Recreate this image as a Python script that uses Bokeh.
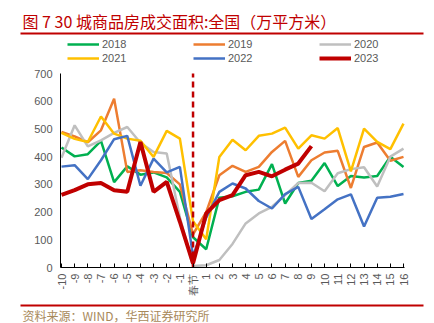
import numpy as np
from bokeh.plotting import figure
from bokeh.models import (Range1d, FixedTicker, Label, Arrow, Legend,
                          LegendItem, ColumnDataSource)
from bokeh.embed import file_html
from bokeh.resources import INLINE

categories = ["-10", "-9", "-8", "-7", "-6", "-5", "-4", "-3", "-2", "-1", "春节",
              "1", "2", "3", "4", "5", "6", "7", "8", "9", "10", "11", "12", "13",
              "14", "15", "16"]
y_ticks = [0, 100, 200, 300, 400, 500, 600, 700]

y2018 = [433, 401, 409, 457, 308, 365, 335, 343, 325, 273, 109, 66, 252, 257, 273,
         281, 373, 231, 305, 313, 377, 294, 330, 325, 330, 400, 363]
y2019 = [489, 473, 452, 495, 609, 345, 351, 345, 341, 300, 120, 200, 333, 367, 345,
         363, 417, 457, 327, 387, 415, 421, 287, 435, 451, 385, 399]
y2020 = [396, 513, 437, 459, 486, 507, 450, 417, 411, 180, 5, 8, 27, 85, 159,
         195, 219, 261, 305, 306, 275, 340, 355, 362, 292, 400, 429]
y2021 = [486, 464, 453, 545, 483, 465, 457, 399, 493, 465, 167, 102, 399, 461, 423,
         475, 483, 505, 429, 477, 465, 503, 347, 501, 453, 427, 519]
y2022 = [364, 369, 319, 387, 463, 475, 295, 393, 343, 363, 40, 180, 273, 303, 285,
         240, 213, 265, 291, 175, 210, 246, 264, 148, 252, 255, 265]
y2023 = [262, 279, 300, 305, 279, 273, 453, 273, 309, 165, 15, 195, 243, 261, 333,
         345, 329, 353, 375, 438]

series_names = ["2018", "2019", "2020", "2021", "2022", "2023"]
series_values = [y2018, y2019, y2020, y2021, y2022, y2023]
series_colors = ["#00B050", "#ED7D31", "#BFBFBF", "#FFC000", "#4472C4", "#C00000"]
series_widths = [2.5, 2.5, 2.5, 2.5, 2.5, 4]

title_text = "图 7 30 城商品房成交面积:全国（万平方米）"
source_text = "资料来源：WIND，华西证券研究所"

W, H = 434, 323
# pixel placement of the data area inside the canvas
PX_FIRST, PX_LAST, PY_ZERO, PY_TOP = 61.0, 403.0, 267.0, 73.0
n = len(categories)
sx = (PX_LAST - PX_FIRST) / (n - 1)          # px per category step
sy = (PY_ZERO - PY_TOP) / y_ticks[-1]        # px per unit

def to_x(px):
    return (px - PX_FIRST) / sx

def to_y(py):
    return (PY_ZERO - py) / sy

p = figure(width=W, height=H, output_backend="svg", toolbar_location=None,
           x_range=Range1d(to_x(0), to_x(W)), y_range=Range1d(to_y(H), to_y(0)),
           min_border=0, min_border_left=0, min_border_right=0,
           min_border_top=0, min_border_bottom=0)
p.outline_line_color = None
p.xgrid.grid_line_color = None
p.ygrid.grid_line_color = None
p.background_fill_color = "white"
p.border_fill_color = "white"

renderers = []
for name, vals, col, lw in zip(series_names, series_values, series_colors, series_widths):
    ys = list(vals) + [np.nan] * (n - len(vals))
    src = ColumnDataSource(dict(x=list(range(n)), y=ys))
    r = p.line("x", "y", source=src, line_color=col, line_width=lw)
    renderers.append(r)

# dashed marker at Spring Festival
sf = categories.index("春节")
p.segment(x0=[sf], y0=[y_ticks[0]], x1=[sf], y1=[y_ticks[-1]],
          line_color="#C00000", line_width=2.5, line_dash="6 4")

x_lo, x_hi = to_x(PX_FIRST - 1), to_x(PX_LAST + 1)

# axes, fixed inside the canvas-wide frame
p.xaxis.fixed_location = 0
p.xaxis.bounds = (x_lo, x_hi)
p.xaxis.ticker = FixedTicker(ticks=list(range(n)))
p.xaxis.major_label_overrides = {i: c for i, c in enumerate(categories)}
p.xaxis.major_label_orientation = np.pi / 2
p.xaxis.major_tick_in = 4
p.xaxis.major_tick_out = 0
p.xaxis.minor_tick_line_color = None
p.xaxis.axis_line_color = "black"
p.xaxis.major_tick_line_color = "black"
p.xaxis.major_label_text_font = "Liberation Sans"
p.xaxis.major_label_text_font_size = "11px"
p.xaxis.major_label_text_color = "#595959"
p.xaxis.major_label_standoff = 6

p.yaxis.fixed_location = x_lo
p.yaxis.bounds = (y_ticks[0], y_ticks[-1])
p.yaxis.ticker = FixedTicker(ticks=y_ticks)
p.yaxis.major_tick_in = 0
p.yaxis.major_tick_out = 0
p.yaxis.minor_tick_line_color = None
p.yaxis.axis_line_color = "black"
p.yaxis.major_label_text_font = "Liberation Sans"
p.yaxis.major_label_text_font_size = "11px"
p.yaxis.major_label_text_color = "#595959"
p.yaxis.major_label_standoff = 8

# legend
items = [LegendItem(label=nm, renderers=[r]) for nm, r in zip(series_names, renderers)]
legend = Legend(items=items, location=(67, H - 37 - 28), orientation="horizontal", ncols=3,
                glyph_width=32, glyph_height=14, label_height=14, label_width=91,
                label_standoff=3, spacing=0, padding=0, margin=0,
                border_line_color=None, background_fill_alpha=0,
                label_text_font="Liberation Sans", label_text_font_size="11px",
                label_text_color="#595959")
p.add_layout(legend)

# title, rules and source
p.add_layout(Label(x=to_x(22), y=to_y(20), text=title_text, text_font="Noto Sans CJK SC",
                   text_font_size="16px", text_color="#C00000", text_baseline="middle"))
p.add_layout(Arrow(end=None, x_start=to_x(20), y_start=to_y(33), x_end=to_x(423),
                   y_end=to_y(33), line_color="#C00000", line_width=2))
p.add_layout(Arrow(end=None, x_start=to_x(20), y_start=to_y(305), x_end=to_x(423),
                   y_end=to_y(305), line_color="#C00000", line_width=2))
p.add_layout(Label(x=to_x(22), y=to_y(315), text=source_text, text_font="Noto Sans CJK SC",
                   text_font_size="12px", text_color="#A8895A", text_baseline="middle"))

open("out.html", "w").write(file_html(p, INLINE))
